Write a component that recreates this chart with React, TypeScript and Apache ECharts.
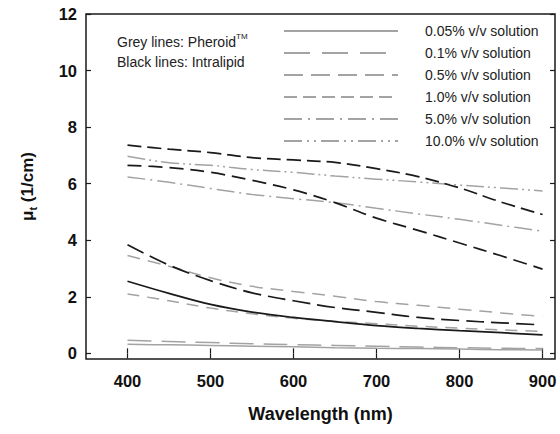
import React, { useEffect, useRef } from "react";
import * as echarts from "echarts";

// Wavelength grid (nm)
const wavelengths = [400, 450, 500, 550, 600, 650, 700, 750, 800, 850, 900];
const wavelengthsShort = [400, 450, 500, 550, 600, 650, 700, 750, 800, 850, 890];

// Pheroid (grey lines), mu_t in 1/cm
const pheroid005 = [0.32, 0.3, 0.28, 0.25, 0.23, 0.2, 0.18, 0.17, 0.15, 0.13, 0.12];
const pheroid01 = [0.46, 0.42, 0.38, 0.34, 0.31, 0.28, 0.25, 0.22, 0.2, 0.18, 0.17];
const pheroid05 = [2.1, 1.86, 1.6, 1.4, 1.24, 1.13, 1.05, 0.96, 0.89, 0.83, 0.77];
const pheroid10 = [3.46, 3.08, 2.67, 2.37, 2.19, 2.02, 1.83, 1.7, 1.56, 1.43, 1.3];
const pheroid50 = [6.24, 6.05, 5.83, 5.62, 5.47, 5.33, 5.13, 4.93, 4.74, 4.53, 4.32];
const pheroid100 = [6.97, 6.74, 6.65, 6.5, 6.4, 6.27, 6.16, 6.06, 5.95, 5.85, 5.74];

// Intralipid (black lines)
const intralipid005 = [2.55, 2.12, 1.73, 1.46, 1.27, 1.12, 0.98, 0.88, 0.8, 0.73, 0.65];
const intralipid01 = [3.84, 3.12, 2.57, 2.14, 1.86, 1.62, 1.45, 1.27, 1.16, 1.08, 1.02];
const intralipid05 = [6.65, 6.57, 6.4, 6.12, 5.78, 5.33, 4.78, 4.35, 3.9, 3.45, 2.98];
const intralipid10 = [7.36, 7.22, 7.1, 6.92, 6.84, 6.75, 6.53, 6.25, 5.85, 5.35, 4.91];

const legendNames = [
  "0.05% v/v solution",
  "0.1% v/v solution",
  "0.5% v/v solution",
  "1.0% v/v solution",
  "5.0% v/v solution",
  "10.0% v/v solution",
];
const legendDashes: (string | number[])[] = [
  "solid",
  [26, 12],
  [19, 8],
  [13, 6],
  [18, 6, 2, 6],
  [18, 5, 2, 5, 2, 5],
];

const xTicks = [400, 500, 600, 700, 800, 900];
const yTicks = [0, 2, 4, 6, 8, 10, 12];

const GREY = "#a3a3a3";
const BLACK = "#1a1a1a";
const FONT = "'Liberation Sans', Arial, Helvetica, sans-serif";

function pairs(xs: number[], ys: number[]) {
  return xs.map((x, i) => [x, ys[i]]);
}

export default function App() {
  const ref = useRef<HTMLDivElement>(null);
  useEffect(() => {
    if (!ref.current) return;
    const chart = echarts.init(ref.current, undefined, { renderer: "svg" });

    const mk = (name: string, xs: number[], ys: number[], color: string, type: any, width = 1.5) => ({
      name,
      type: "line",
      data: pairs(xs, ys),
      smooth: 0.35,
      symbol: "none",
      xAxisIndex: 0,
      yAxisIndex: 0,
      lineStyle: { color, width, type },
      itemStyle: { color },
      z: 3,
    });

    const legendSeries = legendNames.map((n, i) => ({
      name: n,
      type: "line",
      data: [],
      symbol: "none",
      lineStyle: { color: GREY, width: 1.5, type: legendDashes[i] },
      itemStyle: { color: GREY },
    }));

    const tickStyle = { color: BLACK, width: 1.2 };
    const labelStyle = {
      color: "#111",
      fontSize: 16.5,
      fontWeight: "bold" as const,
      fontFamily: FONT,
    };

    chart.setOption({
      animation: false,
      backgroundColor: "#fff",
      grid: {
        left: 86,
        right: 5,
        top: 14,
        bottom: 75,
        show: true,
        borderColor: BLACK,
        borderWidth: 1.5,
        backgroundColor: "transparent",
      },
      legend: {
        data: legendNames,
        orient: "vertical",
        left: 283,
        top: 24,
        padding: 0,
        itemWidth: 114,
        itemHeight: 14,
        itemGap: 8,
        selectedMode: false,
        itemStyle: { opacity: 0 },
        textStyle: { fontSize: 14, color: "#222", fontFamily: FONT, padding: [0, 0, 0, 22] },
      },
      xAxis: [
        {
          type: "value",
          min: 350,
          max: 915,
          position: "bottom",
          axisLine: { show: false },
          splitLine: { show: false },
          axisTick: { show: true, inside: true, length: 5, lineStyle: tickStyle, customValues: xTicks },
          axisLabel: { ...labelStyle, margin: 13, customValues: xTicks },
          name: "Wavelength (nm)",
          nameLocation: "middle",
          nameGap: 46,
          nameTextStyle: { fontSize: 18, fontWeight: "bold", color: "#111", fontFamily: FONT },
        },
        {
          type: "value",
          min: 350,
          max: 915,
          position: "top",
          axisLine: { show: false },
          splitLine: { show: false },
          axisTick: { show: true, inside: true, length: 5, lineStyle: tickStyle, customValues: xTicks },
          axisLabel: { show: false },
        },
      ],
      yAxis: [
        {
          type: "value",
          min: -0.2,
          max: 12,
          position: "left",
          axisLine: { show: false },
          splitLine: { show: false },
          axisTick: { show: true, inside: true, length: 5, lineStyle: tickStyle, customValues: yTicks },
          axisLabel: { ...labelStyle, margin: 9, customValues: yTicks },
          name: "{m|μ}{s|t}{m| (1/cm)}",
          nameLocation: "middle",
          nameGap: 48,
          nameTextStyle: {
            color: "#111",
            fontFamily: FONT,
            rich: {
              m: { fontSize: 17, fontWeight: "bold", fontFamily: FONT, color: "#111", lineHeight: 22 },
              s: { fontSize: 11, fontWeight: "bold", fontFamily: FONT, color: "#111", verticalAlign: "bottom", lineHeight: 16 },
            },
          },
        },
        {
          type: "value",
          min: -0.2,
          max: 12,
          position: "right",
          axisLine: { show: false },
          splitLine: { show: false },
          axisTick: { show: true, inside: true, length: 5, lineStyle: tickStyle, customValues: yTicks },
          axisLabel: { show: false },
        },
      ],
      graphic: [
        {
          type: "text",
          left: 117,
          top: 32,
          style: {
            text: "{a|Grey lines: Pheroid}{s|TM}\n{a|Black lines: Intralipid}",
            rich: {
              a: { fontSize: 14, fontFamily: FONT, fill: "#222", lineHeight: 20 },
              s: { fontSize: 8, fontFamily: FONT, fill: "#222", verticalAlign: "top", lineHeight: 20 },
            },
          },
        },
      ],
      series: [
        ...legendSeries,
        mk("Pheroid 0.05%", wavelengths, pheroid005, GREY, "solid"),
        mk("Pheroid 0.1%", wavelengths, pheroid01, GREY, [24, 10]),
        mk("Pheroid 0.5%", wavelengths, pheroid05, GREY, [12, 8]),
        mk("Pheroid 1.0%", wavelengths, pheroid10, GREY, [13, 8]),
        mk("Pheroid 5.0%", wavelengths, pheroid50, GREY, [18, 5, 2, 5]),
        mk("Pheroid 10.0%", wavelengths, pheroid100, GREY, [18, 4, 2, 4, 2, 4]),
        mk("Intralipid 0.05%", wavelengths, intralipid005, BLACK, "solid", 1.7),
        mk("Intralipid 0.1%", wavelengthsShort, intralipid01, BLACK, [18, 7], 1.7),
        mk("Intralipid 0.5%", wavelengths, intralipid05, BLACK, [14, 7], 1.7),
        mk("Intralipid 1.0%", wavelengths, intralipid10, BLACK, [14, 6], 1.7),
      ],
    });
    return () => chart.dispose();
  }, []);

  return (
    <div style={{ position: "fixed", left: 0, top: 0, width: 560, height: 434, background: "#fff" }}>
      <div ref={ref} style={{ width: 560, height: 434 }} />
    </div>
  );
}
